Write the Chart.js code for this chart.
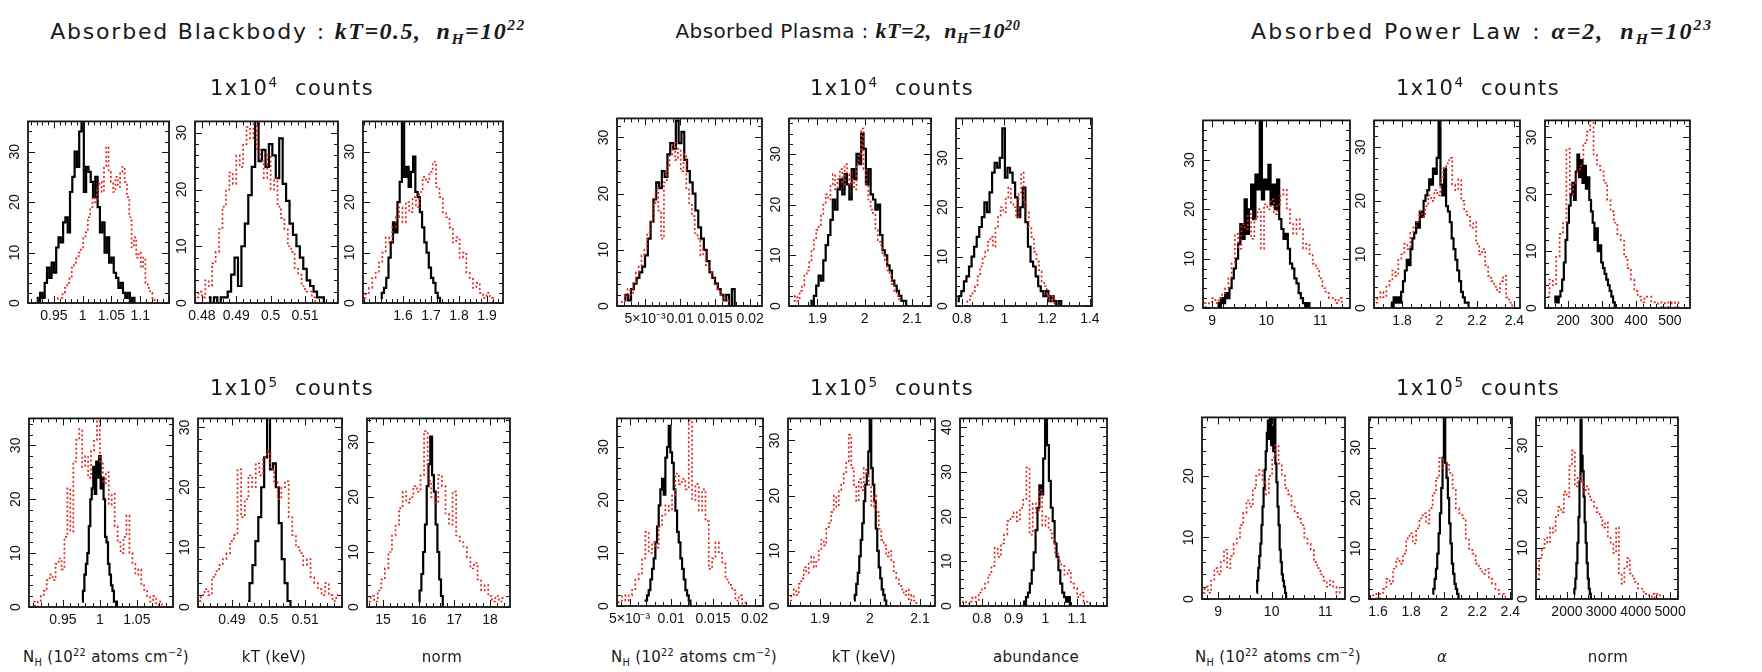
<!DOCTYPE html>
<html>
<head>
<meta charset="utf-8">
<script src="https://cdn.jsdelivr.net/npm/chart.js@4.4.1/dist/chart.umd.min.js"></script>
<style>
body{margin:0;background:#fff;width:1762px;height:672px;position:relative;overflow:hidden;font-family:"DejaVu Sans",Arial,sans-serif;color:#1a1a1a}
canvas{position:absolute}
.t{position:absolute;white-space:nowrap;transform:translate(-50%,-50%)}
.title{font-size:22px;letter-spacing:1.8px}
.m{font-family:"Liberation Serif",serif;font-style:italic;font-weight:bold;font-size:24px;letter-spacing:1.5px}
.narrow{font-size:20px;letter-spacing:0.4px}
.narrow .m{font-size:22px;letter-spacing:0.6px}
.wide{letter-spacing:2.4px}
.wide .m{letter-spacing:2px}
.row{font-size:21px;letter-spacing:1.5px}
.ax{font-size:15px;letter-spacing:0.3px}
sup,sub{font-size:65%;line-height:0}
</style>
</head>
<body>
<script>
// histogram counts per bin (black = solid, red = dotted)
// absorbed blackbody, 1e4 counts
const bbNh4Black=[1,0,2,1,4,7,5,8,6,11,13,12,16,17,14,22,25,30,27,34,37,22,27,26,24,21,25,19,14,16,10,13,8,9,6,5,3,4,2,1,2,0,1,0];
const bbNh4Red=[0,1,1,2,3,4,5,7,8,9,10,11,13,14,17,19,21,20,23,24,22,27,31,26,24,22,25,23,26,27,24,21,17,11,13,9,10,7,9,4,3,2,1,0];
const bbKt4Black=[1,0,1,0,1,1,2,5,8,3,10,14,19,24,33,25,27,24,28,26,22,29,21,18,14,12,10,8,6,4,3,2,1,1,0];
const bbKt4Red=[1,2,1,4,3,7,9,13,17,20,23,21,26,24,28,31,29,33,27,25,22,26,20,22,17,15,13,10,9,6,5,3,2,2,1,0];
const bbNorm4Black=[1,2,3,5,9,12,16,14,20,24,37,25,27,23,26,29,22,21,18,15,12,10,7,5,4,2,1,0];
const bbNorm4Red=[1,2,3,5,6,8,10,13,12,15,17,19,16,20,18,21,19,22,25,24,26,28,23,21,18,17,15,12,13,9,10,6,5,3,4,2,1,2,1,0];
// absorbed blackbody, 1e5 counts
const bbNh5Black=[1,3,6,8,10,15,20,22,26,21,27,24,28,22,24,20,13,12,8,6,4,3,1,1,0];
const bbNh5Red=[1,0,1,2,3,5,6,5,8,9,7,13,22,14,27,31,33,26,28,24,29,31,35,27,23,25,19,21,15,12,10,13,17,10,8,6,7,4,3,2,1,2,0,1,0];
const bbKt5Black=[1,4,7,11,15,20,25,32,23,24,20,14,8,4,1,0];
const bbKt5Red=[1,2,3,2,5,6,7,8,9,11,12,23,15,18,22,20,24,22,25,26,23,21,18,20,21,15,12,10,9,7,8,5,4,3,2,4,2,1,2];
const bbNorm5Black=[1,3,6,10,15,22,26,31,24,21,15,10,5,2,0];
const bbNorm5Red=[1,2,1,3,5,7,10,13,15,18,21,19,20,22,21,24,32,23,20,19,24,22,17,15,21,13,12,11,9,7,8,5,3,4,2,1,2,1,2];
// absorbed plasma, 1e4 counts
const pmNh4Black=[1,2,1,3,4,5,6,7,9,12,15,19,22,21,24,23,27,29,28,33,29,31,26,24,22,20,17,14,12,10,8,6,5,4,3,2,1,2,0,3,0];
const pmNh4Red=[0,1,2,3,2,4,6,7,9,10,13,15,18,21,17,12,22,25,27,29,26,28,24,27,21,18,16,13,12,9,10,7,6,5,4,3,2,1,1,0];
const pmKt4Black=[1,0,2,4,6,5,9,12,14,17,21,19,23,25,22,26,24,21,27,25,30,28,34,31,24,27,22,21,19,20,14,11,10,8,7,5,4,3,2,1,1,0];
const pmKt4Red=[1,2,1,3,4,6,7,9,11,13,15,16,18,20,22,21,24,26,23,25,27,24,28,26,24,25,23,28,30,35,27,24,21,19,18,15,13,12,10,9,7,6,4,3,2,1];
const pmAb4Black=[1,2,3,5,6,8,10,12,14,16,18,21,19,23,27,29,28,30,36,26,28,27,25,22,18,20,24,17,12,9,8,6,4,3,2,3,1,2,1,0,1,0];
const pmAb4Red=[0,1,2,3,4,6,8,10,11,13,14,12,16,18,20,19,22,24,21,20,18,23,27,21,19,16,14,11,9,7,5,4,2,1,2,0];
// absorbed plasma, 1e5 counts
const pmNh5Black=[1,1,2,3,5,7,9,12,15,19,22,24,21,28,30,34,29,27,22,18,14,12,9,7,5,3,2,1,0];
const pmNh5Red=[0,1,2,1,2,3,5,6,9,14,10,12,11,15,17,19,18,21,25,23,24,22,35,20,23,18,22,16,7,9,12,10,8,5,4,3,1,2,0,1];
const pmKt5Black=[1,2,4,6,9,12,15,19,22,24,28,35,25,22,19,14,10,7,5,3,2,1,0];
const pmKt5Red=[1,2,3,2,4,5,7,6,8,9,7,8,10,12,11,14,15,17,20,18,21,22,24,26,31,25,22,19,23,21,25,24,22,18,20,17,14,12,11,9,10,8,6,5,4,3,2,3,1,2,1,0];
const pmAb5Black=[1,0,2,3,5,8,12,17,22,27,25,33,42,36,28,22,19,14,11,8,5,3,2,1,2,0];
const pmAb5Red=[0,1,0,1,2,1,3,4,5,7,9,13,11,14,16,19,20,21,19,22,24,31,16,23,21,26,18,20,17,15,12,10,9,7,8,5,4,2,3,1,1,0];
// absorbed power law, 1e4 counts
const plNh4Black=[1,0,2,1,3,2,4,6,8,10,13,17,14,22,15,20,25,18,27,24,38,22,26,24,29,21,25,20,26,18,16,14,15,12,9,8,6,5,3,2,1,0,1,0];
const plNh4Red=[1,0,1,2,1,2,3,4,6,9,15,12,17,16,19,14,18,20,12,21,20,22,19,21,23,24,20,17,15,18,16,12,13,11,9,8,6,4,3,2,2,1,2,1];
const plA4Black=[1,0,2,1,2,1,3,5,7,9,8,11,13,14,16,15,18,17,20,21,22,24,23,26,25,28,35,23,21,26,19,18,16,13,11,9,7,5,3,2,1,1,0];
const plA4Red=[1,2,3,2,4,5,7,6,9,10,12,11,14,15,16,18,17,19,21,20,22,21,24,26,27,28,23,22,24,20,18,17,15,16,12,10,11,8,6,5,4,3,5,6,2,1,0];
const plNorm4Black=[1,2,1,2,3,5,8,12,15,18,20,22,19,24,27,23,26,22,25,21,23,19,17,15,12,14,10,11,8,7,6,5,4,3,2,1,0];
const plNorm4Red=[2,5,4,9,13,15,28,20,22,24,25,29,31,36,27,25,24,22,19,17,15,13,12,9,7,5,3,2,1,2,2,1,1,0,1,0,1,0,1,0];
// absorbed power law, 1e5 counts
const plNh5Black=[1,3,5,7,9,12,15,18,21,24,27,29,26,30,25,28,24,30,22,19,15,12,8,6,4,3,2,1,0];
const plNh5Red=[1,2,1,3,5,4,6,8,5,7,9,10,12,14,16,15,18,20,21,19,17,20,23,25,22,20,18,17,15,14,13,12,10,9,8,6,5,4,3,2,3,2,1,2];
const plA5Black=[1,2,4,6,9,13,17,22,28,36,27,24,20,15,11,7,5,3,2,1,0];
const plA5Red=[0,1,0,1,2,4,3,6,8,7,9,12,13,11,14,16,17,15,18,21,24,28,26,27,25,22,18,17,16,12,10,9,7,6,5,6,4,3,2,1,1,0];
const plNorm5Black=[1,2,4,7,11,16,23,35,28,25,20,15,11,7,4,2,1,0];
const plNorm5Red=[4,8,10,12,11,14,13,16,18,17,21,20,26,29,22,24,23,21,22,20,19,18,17,16,14,15,12,11,9,14,5,3,6,8,5,4,3,2,2,1,1,0,1,0,1,0];

// tick values and labels
const ticksBbNh4=[0.95,1,1.05,1.1];
const ticksBbNh5=[0.95,1,1.05];
const ticksBbKt4=[0.48,0.49,0.5,0.51];
const ticksBbKt5=[0.49,0.5,0.51];
const ticksBbNorm4=[1.6,1.7,1.8,1.9];
const ticksBbNorm5=[15,16,17,18];
const ticksPmNh=[0.005,0.01,0.015,0.02];
const labelsPmNh=['5×10⁻³','0.01','0.015','0.02'];
const ticksPmKt=[1.9,2,2.1];
const ticksPmAb4=[0.8,1,1.2,1.4];
const ticksPmAb5=[0.8,0.9,1,1.1];
const ticksPlNh=[9,10,11];
const ticksPlA4=[1.8,2,2.2,2.4];
const ticksPlA5=[1.6,1.8,2,2.2,2.4];
const ticksPlNorm4=[200,300,400,500];
const ticksPlNorm5=[2000,3000,4000,5000];
const yTicks=[0,10,20,30];
const yTicksAb5=[0,10,20,30,40];
const yTicksNh5=[0,10,20];

function hist(start,step,counts){
 return counts.map((c,i)=>({x:start+i*step,y:c}));
}

// box:[left,top,width,height] in page pixels
const panels=[
 {box:[28,111,141,192],x:[0.905,1.15],ymax:36,xt:ticksBbNh4,major:0.05,minor:0.01,yt:yTicks,black:hist(0.92,0.004,bbNh4Black),red:hist(0.955,0.004,bbNh4Red)},
 {box:[195,111,143,192],x:[0.478,0.5196],ymax:32,xt:ticksBbKt4,major:0.01,minor:0.002,yt:yTicks,black:hist(0.482,0.001,bbKt4Black),red:hist(0.4785,0.001,bbKt4Red)},
 {box:[363,111,140,192],x:[1.457,1.957],ymax:36,xt:ticksBbNorm4,major:0.1,minor:0.02,yt:yTicks,black:hist(1.52,0.008,bbNorm4Black),red:hist(1.46,0.012,bbNorm4Red)},
 {box:[617,108,145,198],x:[0.001,0.0217],ymax:33.4,xt:ticksPmNh,xl:labelsPmNh,major:0.005,minor:0.001,yt:yTicks,black:hist(0.002,0.0004,pmNh4Black),red:hist(0.0015,0.0004,pmNh4Red)},
 {box:[789,108,142,198],x:[1.84,2.14],ymax:37,xt:ticksPmKt,major:0.1,minor:0.02,yt:yTicks,black:hist(1.885,0.005,pmKt4Black),red:hist(1.85,0.005,pmKt4Red)},
 {box:[956,108,136,198],x:[0.773,1.41],ymax:38,xt:ticksPmAb4,major:0.2,minor:0.05,yt:yTicks,black:hist(0.78,0.012,pmAb4Black),red:hist(0.82,0.012,pmAb4Red)},
 {box:[1203,110,147,198],x:[8.83,11.55],ymax:38,xt:ticksPlNh,major:1,minor:0.2,yt:yTicks,black:hist(9.1,0.04,plNh4Black),red:hist(8.85,0.06,plNh4Red)},
 {box:[1374,110,146,198],x:[1.65,2.43],ymax:35,xt:ticksPlA4,major:0.2,minor:0.05,yt:yTicks,black:hist(1.74,0.01,plA4Black),red:hist(1.66,0.016,plA4Red)},
 {box:[1545,110,145,198],x:[132,559],ymax:33,xt:ticksPlNorm4,major:100,minor:20,yt:yTicks,black:hist(160,5,plNorm4Black),red:hist(140,10,plNorm4Red)},
 {box:[29,408,144,199],x:[0.904,1.099],ymax:35,xt:ticksBbNh5,major:0.05,minor:0.01,yt:yTicks,black:hist(0.976,0.002,bbNh5Black),red:hist(0.91,0.004,bbNh5Red)},
 {box:[198,408,144,199],x:[0.4807,0.5201],ymax:31.5,xt:ticksBbKt5,major:0.01,minor:0.002,yt:yTicks,black:hist(0.4944,0.0008,bbKt5Black),red:hist(0.481,0.001,bbKt5Red)},
 {box:[367,408,143,199],x:[14.55,18.56],ymax:34.3,xt:ticksBbNorm5,major:1,minor:0.2,yt:yTicks,black:hist(16,0.05,bbNorm5Black),red:hist(14.6,0.1,bbNorm5Red)},
 {box:[617,408,146,198],x:[0.0035,0.021],ymax:35.4,xt:ticksPmNh,xl:labelsPmNh,major:0.005,minor:0.001,yt:yTicks,black:hist(0.0068,0.0002,pmNh5Black),red:hist(0.0035,0.0004,pmNh5Red)},
 {box:[788,408,147,198],x:[1.836,2.13],ymax:34,xt:ticksPmKt,major:0.1,minor:0.02,yt:yTicks,black:hist(1.968,0.003,pmKt5Black),red:hist(1.84,0.005,pmKt5Red)},
 {box:[960,408,147,198],x:[0.731,1.194],ymax:42,xt:ticksPmAb5,major:0.1,minor:0.02,yt:yTicksAb5,black:hist(0.93,0.006,pmAb5Black),red:hist(0.735,0.01,pmAb5Red)},
 {box:[1202,407,143,192],x:[8.7,11.37],ymax:29.5,xt:ticksPlNh,major:1,minor:0.2,yt:yTicksNh5,black:hist(9.72,0.02,plNh5Black),red:hist(8.72,0.06,plNh5Red)},
 {box:[1369,407,143,192],x:[1.545,2.41],ymax:36,xt:ticksPlA5,major:0.2,minor:0.05,yt:yTicks,black:hist(1.93,0.008,plA5Black),red:hist(1.56,0.02,plA5Red)},
 {box:[1536,407,142,192],x:[1100,5230],ymax:35.5,xt:ticksPlNorm5,major:1000,minor:200,yt:yTicks,black:hist(2200,30,plNorm5Black),red:hist(1150,80,plNorm5Red)}
];

// frame with inward major/minor ticks on all four sides
const frameTicks={
 id:'frameTicks',
 afterDatasetsDraw(chart,args,o){
  const {ctx,chartArea:a,scales:{x,y}}=chart;
  ctx.save();
  ctx.strokeStyle='#151515';
  ctx.lineWidth=1;
  const marks=(lo,hi,minor,major)=>{
   const out=[];
   for(let k=Math.ceil(lo/minor-1e-9);k*minor<=hi+1e-12;k++){
    const v=k*minor;
    out.push([v,Math.abs(v/major-Math.round(v/major))<1e-6]);
   }
   return out;
  };
  ctx.beginPath();
  for(const [v,big] of marks(x.min,x.max,o.minor,o.major)){
   const px=Math.round(x.getPixelForValue(v))+0.5, l=big?7:4;
   ctx.moveTo(px,a.bottom);ctx.lineTo(px,a.bottom-l);
   ctx.moveTo(px,a.top);ctx.lineTo(px,a.top+l);
  }
  for(const [v,big] of marks(0,y.max,2,10)){
   const py=Math.round(y.getPixelForValue(v))+0.5, l=big?7:4;
   ctx.moveTo(a.left,py);ctx.lineTo(a.left+l,py);
   ctx.moveTo(a.right,py);ctx.lineTo(a.right-l,py);
  }
  ctx.stroke();
  ctx.lineWidth=1.8;
  ctx.strokeRect(a.left,a.top,a.right-a.left,a.bottom-a.top);
  ctx.restore();
 }
};

const L=36,B=30,PT=3,PR=26;
const tickFont={family:'"Liberation Sans", Arial, sans-serif',size:14};

panels.forEach(p=>{
 const cv=document.createElement('canvas');
 const w=p.box[2]+L+PR,h=p.box[3]+PT+B;
 cv.width=w;cv.height=h;
 cv.style.left=(p.box[0]-L)+'px';cv.style.top=(p.box[1]-PT)+'px';
 cv.style.width=w+'px';cv.style.height=h+'px';
 document.body.appendChild(cv);
 new Chart(cv,{
  type:'line',
  data:{datasets:[
   {data:p.red,borderColor:'#e0261e',borderWidth:1.7,borderDash:[2,2.5],stepped:'middle',pointRadius:0,fill:false},
   {data:p.black,borderColor:'#000',borderWidth:2.2,stepped:'middle',pointRadius:0,fill:false}
  ]},
  options:{
   responsive:false,animation:false,events:[],
   layout:{padding:{top:PT,right:PR,left:0,bottom:0}},
   plugins:{legend:{display:false},tooltip:{enabled:false},frameTicks:{major:p.major,minor:p.minor}},
   scales:{
    x:{type:'linear',min:p.x[0],max:p.x[1],
     grid:{display:false,drawTicks:false},border:{display:false},
     afterBuildTicks:s=>{s.ticks=p.xt.map(v=>({value:v}));},
     afterFit:s=>{s.height=B;},
     ticks:{maxRotation:0,autoSkip:false,padding:5,color:'#111',font:tickFont,
      callback:(v,i)=>p.xl?p.xl[i]:String(p.xt[i])}},
    y:{type:'linear',min:0,max:p.ymax,
     grid:{display:false,drawTicks:false},border:{display:false},
     afterBuildTicks:s=>{s.ticks=p.yt.map(v=>({value:v}));},
     afterFit:s=>{s.width=L;},
     ticks:{minRotation:90,maxRotation:90,crossAlign:'center',padding:5,color:'#111',font:tickFont,
      callback:v=>String(v)}}
   }
  },
  plugins:[frameTicks]
 });
});
</script>

<div class="t title" style="left:288px;top:31px">Absorbed Blackbody : <span class="m">kT=0.5,&nbsp; n<sub>H</sub>=10<sup>22</sup></span></div>
<div class="t title narrow" style="left:848px;top:31px">Absorbed Plasma : <span class="m">kT=2,&nbsp; n<sub>H</sub>=10<sup>20</sup></span></div>
<div class="t title wide" style="left:1482px;top:31px">Absorbed Power Law : <span class="m">α=2,&nbsp; n<sub>H</sub>=10<sup>23</sup></span></div>

<div class="t row" style="left:292px;top:88px">1x10<sup>4</sup>&nbsp; counts</div>
<div class="t row" style="left:892px;top:88px">1x10<sup>4</sup>&nbsp; counts</div>
<div class="t row" style="left:1478px;top:88px">1x10<sup>4</sup>&nbsp; counts</div>
<div class="t row" style="left:292px;top:388px">1x10<sup>5</sup>&nbsp; counts</div>
<div class="t row" style="left:892px;top:388px">1x10<sup>5</sup>&nbsp; counts</div>
<div class="t row" style="left:1478px;top:388px">1x10<sup>5</sup>&nbsp; counts</div>

<div class="t ax" style="left:106px;top:657px">N<sub>H</sub> (10<sup>22</sup> atoms cm<sup>−2</sup>)</div>
<div class="t ax" style="left:274px;top:657px">kT (keV)</div>
<div class="t ax" style="left:442px;top:657px">norm</div>
<div class="t ax" style="left:694px;top:657px">N<sub>H</sub> (10<sup>22</sup> atoms cm<sup>−2</sup>)</div>
<div class="t ax" style="left:864px;top:657px">kT (keV)</div>
<div class="t ax" style="left:1036px;top:657px">abundance</div>
<div class="t ax" style="left:1278px;top:657px">N<sub>H</sub> (10<sup>22</sup> atoms cm<sup>−2</sup>)</div>
<div class="t ax" style="left:1442px;top:657px"><i>α</i></div>
<div class="t ax" style="left:1608px;top:657px">norm</div>
</body>
</html>
